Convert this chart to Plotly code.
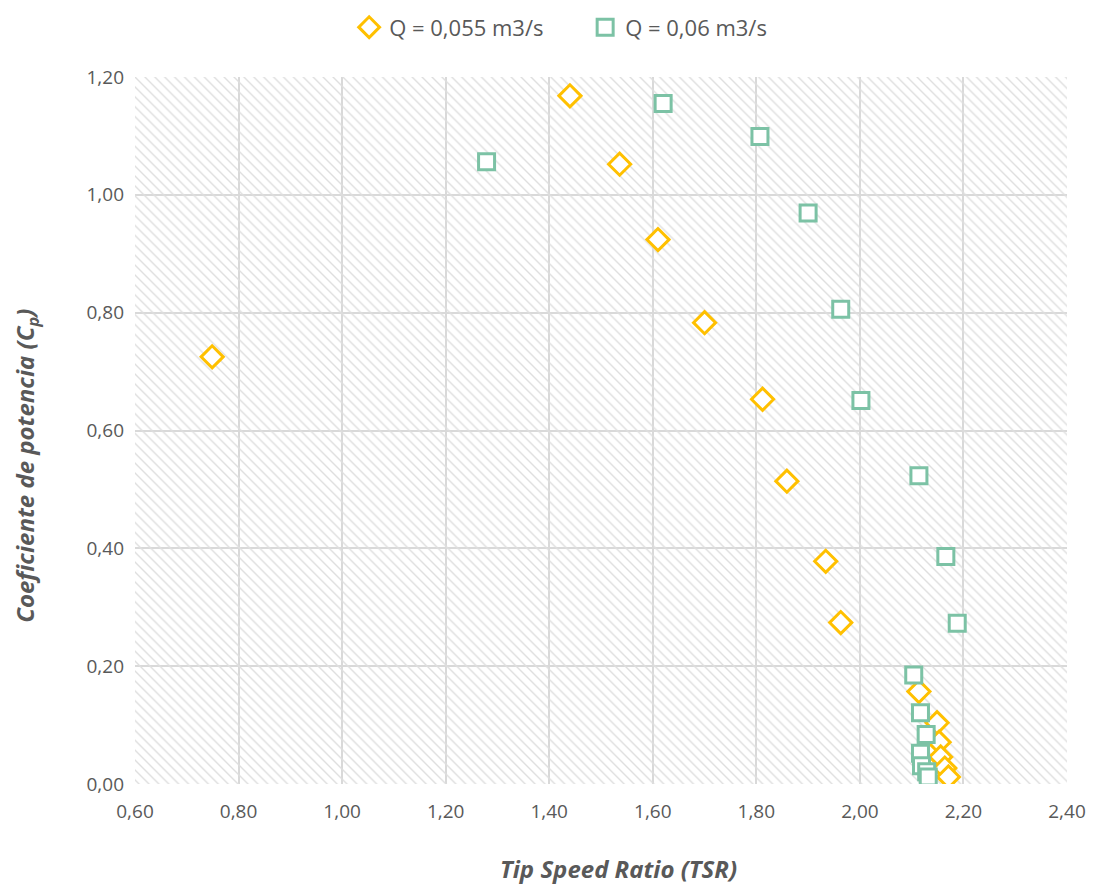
import plotly.graph_objects as go

# TSR / Cp readings, Q = 0,055 m3/s
tsr_055 = [0.749, 1.440, 1.536, 1.610, 1.700, 1.812, 1.859, 1.934, 1.963,
           2.114, 2.149, 2.153, 2.156, 2.164, 2.171]
cp_055 = [0.725, 1.168, 1.052, 0.924, 0.783, 0.653, 0.514, 0.378, 0.274,
          0.157, 0.104, 0.071, 0.046, 0.027, 0.012]

# TSR / Cp readings, Q = 0,06 m3/s
tsr_06 = [1.279, 1.620, 1.807, 1.900, 1.963, 2.002, 2.114, 2.166, 2.188,
          2.104, 2.117, 2.128, 2.117, 2.119, 2.129, 2.132]
cp_06 = [1.056, 1.155, 1.099, 0.969, 0.806, 0.651, 0.523, 0.386, 0.273,
         0.185, 0.121, 0.084, 0.052, 0.031, 0.021, 0.012]

x_range = [0.6, 2.4]
y_range = [0.0, 1.2]

FONT = "Open Sans"
GREY = "#595959"
YELLOW = "#FFC000"
GREEN = "#7CC2A5"

fig = go.Figure()

# hatched plot background (Excel-style pattern fill), grid stays visible through it
fig.add_trace(go.Scatter(
    x=[x_range[0], x_range[1], x_range[1], x_range[0], x_range[0]],
    y=[y_range[0], y_range[0], y_range[1], y_range[1], y_range[0]],
    mode="lines", line=dict(width=0), fill="toself",
    fillcolor="rgba(0,0,0,0)",
    fillpattern=dict(shape="\\", size=7, solidity=0.2,
                     fgcolor="#dedede", bgcolor="rgba(0,0,0,0)",
                     fillmode="replace"),
    hoverinfo="skip", showlegend=False,
))

fig.add_trace(go.Scatter(
    x=tsr_055, y=cp_055, mode="markers", name="Q = 0,055 m3/s",
    marker=dict(symbol="diamond", size=17, color="white",
                line=dict(color=YELLOW, width=3)),
))
fig.add_trace(go.Scatter(
    x=tsr_06, y=cp_06, mode="markers", name="Q = 0,06 m3/s",
    marker=dict(symbol="square", size=16, color="white",
                line=dict(color=GREEN, width=3)),
))

axis_common = dict(
    showgrid=True, gridcolor="#d9d9d9", gridwidth=2,
    zeroline=False, showline=False, ticks="", automargin=False,
    tickformat=".2f", tickfont=dict(family=FONT, size=19, color=GREY),
)

fig.update_xaxes(range=x_range, dtick=0.2, tick0=0.6, ticklabelstandoff=14,
                 **axis_common)
fig.update_yaxes(range=y_range, dtick=0.2, ticklabelstandoff=10,
                 **axis_common)

title_font = dict(family=FONT, size=24, color=GREY, weight="bold",
                  style="italic")
fig.add_annotation(text="Tip Speed Ratio (TSR)", xref="paper", yref="paper",
                   x=0.519, y=-0.12, showarrow=False, font=title_font,
                   xanchor="center", yanchor="middle")
fig.add_annotation(text="Coeficiente de potencia (C<sub>p</sub>)",
                   xref="paper", yref="paper", x=-0.117, y=0.45,
                   textangle=-90, showarrow=False, font=title_font,
                   xanchor="center", yanchor="middle")

# page body adds an 8px offset, so the figure is sized a little smaller
fig.update_layout(
    width=1086, height=880,
    margin=dict(l=127, r=27, t=69, b=104),
    paper_bgcolor="white", plot_bgcolor="white",
    separators=",.",
    font=dict(family=FONT, color=GREY),
    legend=dict(orientation="h", x=0.483, xanchor="center",
                yref="container", y=0.978, yanchor="middle",
                font=dict(family=FONT, size=22, color=GREY),
                itemwidth=30, entrywidth=191, entrywidthmode="pixels",
                traceorder="normal"),
)

fig.write_html("out.html")
